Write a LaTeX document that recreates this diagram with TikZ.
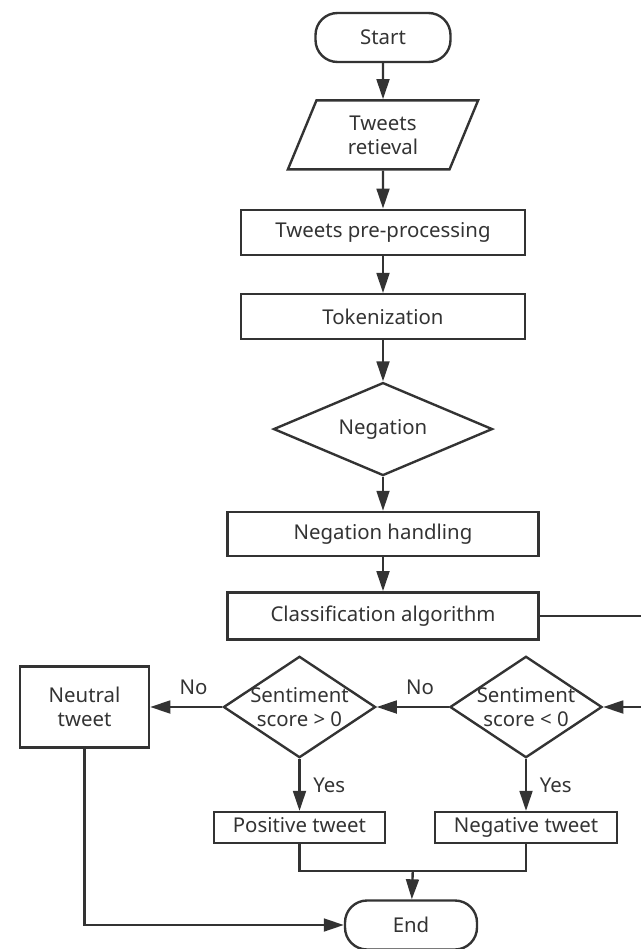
\documentclass[tikz,border=0pt]{standalone}
\usepackage{fontspec}
\setmainfont{Noto Sans}
\usepackage{tikz}
\usetikzlibrary{shapes,arrows.meta,positioning,calc}
\definecolor{ink}{HTML}{333333}
\tikzstyle{terminal} = [rectangle, rounded corners=0.55cm, draw=ink, text=ink, line width=1.7pt, minimum width=3.375cm, minimum height=1.225cm]
\tikzstyle{io} = [trapezium, trapezium left angle=70.4, trapezium right angle=109.6, trapezium stretches=true, draw=ink, text=ink, line width=1.7pt, align=center, minimum width=4.775cm, minimum height=1.725cm]
\tikzstyle{process} = [rectangle, draw=ink, text=ink, line width=1.7pt, minimum width=7.1cm, minimum height=1.125cm]
\tikzstyle{decision} = [diamond, aspect=1.5, inner sep=-0.025cm, draw=ink, text=ink, line width=1.7pt, align=center]
\tikzstyle{outcome} = [rectangle, draw=ink, text=ink, line width=1.7pt, inner xsep=0.47cm, inner ysep=0.1cm, minimum height=0.775cm, text height=0.72em, text depth=0em]
\tikzstyle{arrow} = [draw=ink, line width=1.7pt, -{Triangle[length=0.5cm,width=0.32cm]}]
\tikzstyle{line} = [draw=ink, line width=1.7pt]
\tikzstyle{lbl} = [text=ink]

\begin{document}
\begin{tikzpicture}[node distance=0.9cm, font=\fontsize{14.5}{17}\selectfont]
    \useasboundingbox (0,0) rectangle (16.025,-23.725);
    \node[terminal] (start) at (9.575,-0.9375) {Start};
    \node[io, below=0.9cm of start] (retrieval) {Tweets\\retieval};
    \node[process, below=0.95cm of retrieval] (preproc) {Tweets pre-processing};
    \node[process, below=0.925cm of preproc] (token) {Tokenization};
    \node[decision, minimum width=5.475cm, minimum height=2.325cm, below=1.025cm of token] (negation) {Negation};
    \node[process, minimum width=7.775cm, minimum height=1.1cm, below=0.85cm of negation] (neghandle) {Negation handling};
    \node[process, minimum width=7.775cm, minimum height=1.175cm, below=0.85cm of neghandle] (classify) {Classification algorithm};
    \node[decision] (sneg) at (13.15,-17.675) {Sentiment\\score < 0};
    \node[decision, left=1.8cm of sneg] (spos) {Sentiment\\score > 0};
    \node[outcome, align=center, text height=, text depth=, inner ysep=0.1cm, minimum width=3.225cm, minimum height=2.025cm, left=1.8cm of spos] (neutral) {Neutral\\tweet};
    \node[outcome, below=1.3cm of spos] (positive) {Positive tweet};
    \node[outcome, below=1.3cm of sneg] (negative) {Negative tweet};
    \node[terminal, minimum width=3.3cm] (end) at (10.275,-23.125) {End};
    \coordinate (join) at ($(positive.south)!0.5!(negative.south)+(0,-0.675)$);
    \draw[arrow] (start) -- (retrieval);
    \draw[arrow] (retrieval) -- (preproc);
    \draw[arrow] (preproc) -- (token);
    \draw[arrow] (token) -- (negation);
    \draw[arrow] (negation) -- (neghandle);
    \draw[arrow] (neghandle) -- (classify);
    \draw[arrow] (classify.east) -| ([xshift=1.5cm]sneg.east) -- (sneg.east);
    \draw[arrow] (sneg) -- node[lbl, above=0.15cm, pos=0.4] {No} (spos);
    \draw[arrow] (spos) -- node[lbl, above=0.15cm, pos=0.4] {No} (neutral);
    \draw[arrow] (spos) -- node[lbl, right=0.2cm] {Yes} (positive);
    \draw[arrow] (sneg) -- node[lbl, right=0.2cm] {Yes} (negative);
    \draw[line] (positive.south) |- (join) -| (negative.south);
    \draw[arrow] (join) -- (end);
    \draw[arrow] (neutral.south) |- (end.west);
\end{tikzpicture}
\end{document}
